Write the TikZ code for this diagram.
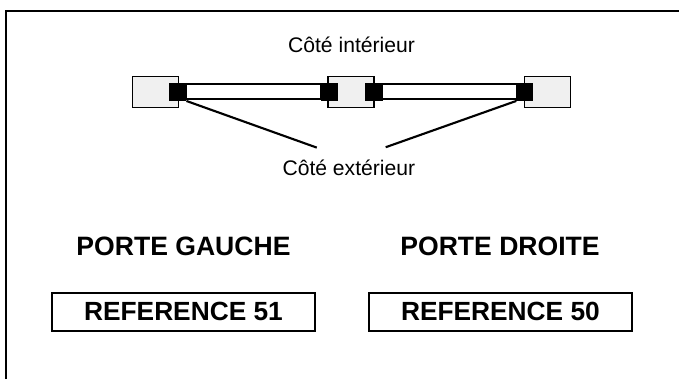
\documentclass[tikz,border=0pt]{standalone}
\usepackage{fontspec}
\setmainfont{Liberation Sans}
\tikzset{
    jamb/.style={draw, line width=1.1pt, fill=black!6, minimum width=1.22cm, minimum height=0.82cm, inner sep=0pt},
    vitre/.style={draw, line width=1.1pt, fill=white, minimum width=3.57cm, minimum height=0.405cm, inner sep=0pt},
    seal/.style={fill=black, minimum width=0.45cm, minimum height=0.46cm, inner sep=0pt},
    refbox/.style={draw, line width=1.5pt, minimum width=6.975cm, minimum height=1.005cm, inner sep=0pt, font=\fontsize{19.8pt}{22pt}\selectfont\bfseries},
    side/.style={anchor=base, inner sep=0pt, font=\fontsize{15.9pt}{18pt}\selectfont},
    door/.style={anchor=base, inner sep=0pt, font=\fontsize{20pt}{24pt}\selectfont\bfseries}
}
\begin{document}
\begin{tikzpicture}
    \useasboundingbox (0,0) rectangle (17.965,-10.028);
    \draw[line width=1.5pt] (0.159,-10.028) -- (0.159,-0.283) -- (17.965,-0.283);
    \node[side] (inner) at (9.30,-1.395) {Côté intérieur};
    \node[jamb] (jamb1) at (4.11,-2.44) {};
    \node[jamb] (jamb2) at (9.29,-2.44) {};
    \node[jamb] (jamb3) at (14.48,-2.44) {};
    \node[vitre] (vitre1) at (6.71,-2.42) {};
    \node[vitre] (vitre2) at (11.89,-2.42) {};
    \node[seal] (seal1) at (4.70,-2.434) {};
    \node[seal] (seal2) at (8.71,-2.434) {};
    \node[seal] (seal3) at (9.895,-2.434) {};
    \node[seal] (seal4) at (13.89,-2.434) {};
    \node[side] (outer) at (9.23,-4.63) {Côté extérieur};
    \coordinate (end1) at (8.38,-3.905);
    \coordinate (end2) at (10.205,-3.895);
    \draw[line width=1.6pt] (seal1.south east) -- (end1);
    \draw[line width=1.6pt] (seal4.south west) -- (end2);
    \node[door] (gauche) at (4.855,-6.773) {PORTE GAUCHE};
    \node[door] (droite) at (13.23,-6.773) {PORTE DROITE};
    \node[refbox] (ref51) at (4.855,-8.247) {REFERENCE 51};
    \node[refbox] (ref50) at (13.24,-8.247) {REFERENCE 50};
\end{tikzpicture}
\end{document}
